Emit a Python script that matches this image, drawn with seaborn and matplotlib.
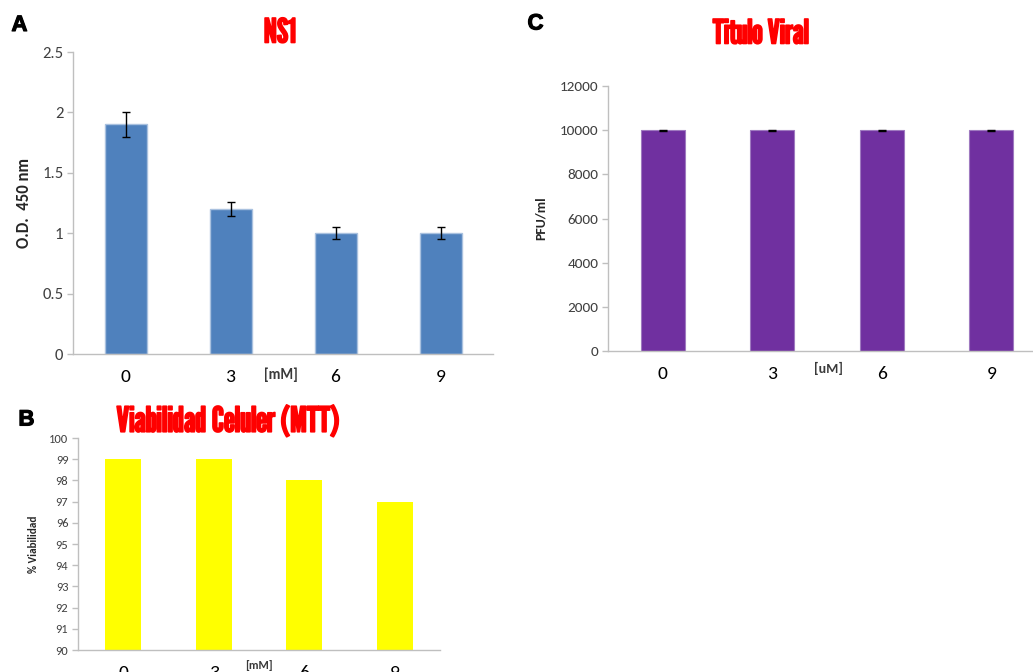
import matplotlib
matplotlib.use("Agg")
import matplotlib.pyplot as plt
import matplotlib.transforms as mtransforms
import matplotlib.patheffects as pe
import pandas as pd
import seaborn as sns

# Concentrations tested and measured responses
concs = ["0", "3", "6", "9"]
ns1_od = [1.9, 1.2, 1.0, 1.0]
ns1_err = [0.1, 0.06, 0.05, 0.05]
viab_pct = [99, 99, 98, 97]
titer_pfu = [10000, 10000, 10000, 10000]
titer_err = [15, 15, 15, 15]

sns.set_theme(style="white")
plt.rcParams["font.family"] = ["Carlito", "DejaVu Sans"]

TITLE_FONT = ["League Gothic", "DejaVu Sans"]
LETTER_FONT = ["Liberation Sans", "DejaVu Sans"]
SPINE = "#bfbfbf"
YTICK = "#404040"
W, H = 1033, 672

fig = plt.figure(figsize=(W / 100, H / 100), dpi=100)
ax_a = fig.add_axes([0.0707, 0.4732, 0.4066, 0.4494])
ax_c = fig.add_axes([0.5886, 0.4777, 0.4240, 0.3943])
ax_b = fig.add_axes([0.0755, 0.0327, 0.3504, 0.3155])


def style_axes(ax, ytick_size):
    for side in ("top", "right"):
        ax.spines[side].set_visible(False)
    for side in ("left", "bottom"):
        ax.spines[side].set_color(SPINE)
        ax.spines[side].set_linewidth(1.0)
    ax.tick_params(axis="y", which="both", left=True, length=4, width=1,
                   color=SPINE, labelsize=ytick_size, labelcolor=YTICK, pad=3)
    ax.tick_params(axis="x", which="both", bottom=False, labelsize=14,
                   labelcolor="black", pad=5)
    ax.set_xlim(-0.5, 3.5)
    ax.set_xlabel("")


def unit_label(ax, text, x, dy_pts, size):
    trans = mtransforms.offset_copy(ax.get_xaxis_transform(), fig=fig,
                                    x=0, y=-dy_pts, units="points")
    ax.text(x, 0, text, transform=trans, ha="center", va="top",
            fontsize=size, fontweight="bold", color="#3a3a3a")


def panel_title(text, px, py, size):
    fig.text(px / W, 1 - py / H, text, ha="center", va="center",
             fontsize=size, color="#ff0000", family=TITLE_FONT,
             path_effects=[pe.withStroke(linewidth=1.2, foreground="#ff0000")])


def panel_letter(text, px, py):
    fig.text(px / W, 1 - py / H, text, ha="center", va="center",
             fontsize=16, fontweight="bold", color="black",
             family=LETTER_FONT,
             path_effects=[pe.withStroke(linewidth=0.8, foreground="black")])


# Panel A: NS1 optical density
df_a = pd.DataFrame({"conc": concs, "od": ns1_od})
sns.barplot(data=df_a, x="conc", y="od", order=concs, color="#4f81bd",
            width=0.4, errorbar=None, saturation=1, edgecolor="#a9c1df",
            linewidth=1.0, ax=ax_a)
ax_a.errorbar(range(len(concs)), ns1_od, yerr=ns1_err, fmt="none",
              ecolor="black", elinewidth=1, capsize=3, capthick=1, zorder=5)
ax_a.set_ylim(0, 2.5)
ax_a.set_yticks([0, 0.5, 1, 1.5, 2, 2.5])
ax_a.set_yticklabels(["0", "0.5", "1", "1.5", "2", "2.5"])
style_axes(ax_a, 12)
ax_a.set_ylabel("O.D.  450 nm", fontsize=12, fontweight="bold")
ax_a.yaxis.set_label_coords(-0.098, 0.5)
unit_label(ax_a, "[mM]", 1.48, 9.5, 10.5)

# Panel C: viral titer
df_c = pd.DataFrame({"conc": concs, "pfu": titer_pfu})
sns.barplot(data=df_c, x="conc", y="pfu", order=concs, color="#7030a0",
            width=0.4, errorbar=None, saturation=1, edgecolor="#9f7ac0",
            linewidth=0.8, ax=ax_c)
ax_c.errorbar(range(len(concs)), titer_pfu, yerr=titer_err, fmt="none",
              ecolor="black", elinewidth=1, capsize=3, capthick=1, zorder=5)
ax_c.set_ylim(0, 12000)
ax_c.set_yticks(range(0, 12001, 2000))
style_axes(ax_c, 11)
ax_c.set_ylabel("PFU/ml", fontsize=10, fontweight="bold")
ax_c.yaxis.set_label_coords(-0.14, 0.5)
unit_label(ax_c, "[uM]", 1.51, 8, 10)

# Panel B: cell viability
df_b = pd.DataFrame({"conc": concs, "viab": viab_pct})
sns.barplot(data=df_b, x="conc", y="viab", order=concs, color="#ffff00",
            width=0.4, errorbar=None, saturation=1, linewidth=0, ax=ax_b)
ax_b.set_ylim(90, 100)
ax_b.set_yticks(range(90, 101))
style_axes(ax_b, 9)
ax_b.set_ylabel("% Viabilidad", fontsize=8, fontweight="bold")
ax_b.yaxis.set_label_coords(-0.108, 0.5)
unit_label(ax_b, "[mM]", 1.5, 7, 8.5)

# Titles and panel letters
panel_title("NS1", 280, 33, 24)
panel_title("Titulo Viral", 761, 34, 24)
panel_title("Viabilidad Celuler (MTT)", 228, 422, 25)
panel_letter("A", 19.5, 25.5)
panel_letter("C", 535.5, 24)
panel_letter("B", 26.5, 420)

fig.savefig("out.png", dpi=100)
